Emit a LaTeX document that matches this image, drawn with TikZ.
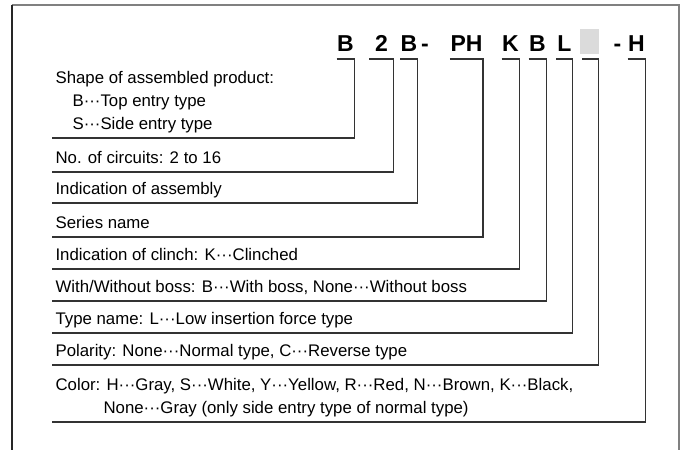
\documentclass[tikz,border=0pt]{standalone}
\usepackage{fontspec}
\setmainfont{Liberation Sans}
\usetikzlibrary{positioning, calc}

\begin{document}
\begin{tikzpicture}[x=1pt, y=-1pt, line width=1.1pt,
    code/.style={font=\bfseries\fontsize{23}{23}\selectfont, inner sep=0pt, text height=17pt, text depth=7pt, anchor=south},
    desc/.style={font=\fontsize{16.8}{23}\selectfont, align=left, inner xsep=3pt, inner ysep=0pt, text depth=7.5pt, anchor=south west},
    lead/.style={draw=black!80}]
    \useasboundingbox (0,0) rectangle (686,450);

    % Frame
    \draw[black!50] (11.5,5) -- (679,5) -- (679,460);
    \draw[black!85] (12,5) -- (12,460);

    % Nodes
    % part number
    \node[code, minimum width=15pt] (cShape) at (345.5,59) {B};
    \node[code, minimum width=23pt] (cCirc) at (381.5,59) {2};
    \node[code, minimum width=14pt] (cAsm) at (409,59) {B};
    \node[code] (dashA) at (425,59) {-};
    \node[code, minimum width=31pt] (cSeries) at (466.5,59) {PH};
    \node[code, minimum width=15pt] (cClinch) at (510.5,59) {K};
    \node[code, minimum width=15pt] (cBoss) at (537.5,59) {B};
    \node[code, minimum width=15pt] (cType) at (564.5,59) {L};
    \node[fill=black!14, minimum width=19pt, minimum height=25pt, inner sep=0pt] (polBox) at (589.5,41.5) {};
    \node[code, minimum width=15pt] (cPol) at (590.5,59) {};
    \node[code] (dashB) at (617.5,59) {-};
    \node[code, minimum width=15pt] (cColor) at (636.5,59) {H};

    % descriptions
    \node[desc] (dShape) at (52,138) {Shape of assembled product:\\\hspace*{17pt}B···Top entry type\\\hspace*{17pt}S···Side entry type};
    \node[desc] (dCirc) at (52,172) {No. of circuits: 2 to 16};
    \node[desc] (dAsm) at (52,203) {Indication of assembly};
    \node[desc] (dSeries) at (52,237) {Series name};
    \node[desc] (dClinch) at (52,269) {Indication of clinch: K···Clinched};
    \node[desc] (dBoss) at (52,301) {With/Without boss: B···With boss, None···Without boss};
    \node[desc] (dType) at (52,333) {Type name: L···Low insertion force type};
    \node[desc] (dPol) at (52,365) {Polarity: None···Normal type, C···Reverse type};
    \node[desc] (dColor) at (52,422) {Color: H···Gray, S···White, Y···Yellow, R···Red, N···Brown, K···Black,\\\hspace*{48pt}None···Gray (only side entry type of normal type)};

    % Edges
    % shape
    \draw[lead] (cShape.south west) -- (cShape.south east) |- (dShape.south west);
    % circuits
    \draw[lead] (cCirc.south west) -- (cCirc.south east) |- (dCirc.south west);
    % assembly
    \draw[lead] (cAsm.south west) -- (cAsm.south east) |- (dAsm.south west);
    % series
    \draw[lead] (cSeries.south west) -- (cSeries.south east) |- (dSeries.south west);
    % clinch
    \draw[lead] (cClinch.south west) -- (cClinch.south east) |- (dClinch.south west);
    % boss
    \draw[lead] (cBoss.south west) -- (cBoss.south east) |- (dBoss.south west);
    % type name
    \draw[lead] (cType.south west) -- (cType.south east) |- (dType.south west);
    % polarity
    \draw[lead] (cPol.south west) -- (cPol.south east) |- (dPol.south west);
    % color
    \draw[lead] (cColor.south west) -- (cColor.south east) |- (dColor.south west);

\end{tikzpicture}
\end{document}
